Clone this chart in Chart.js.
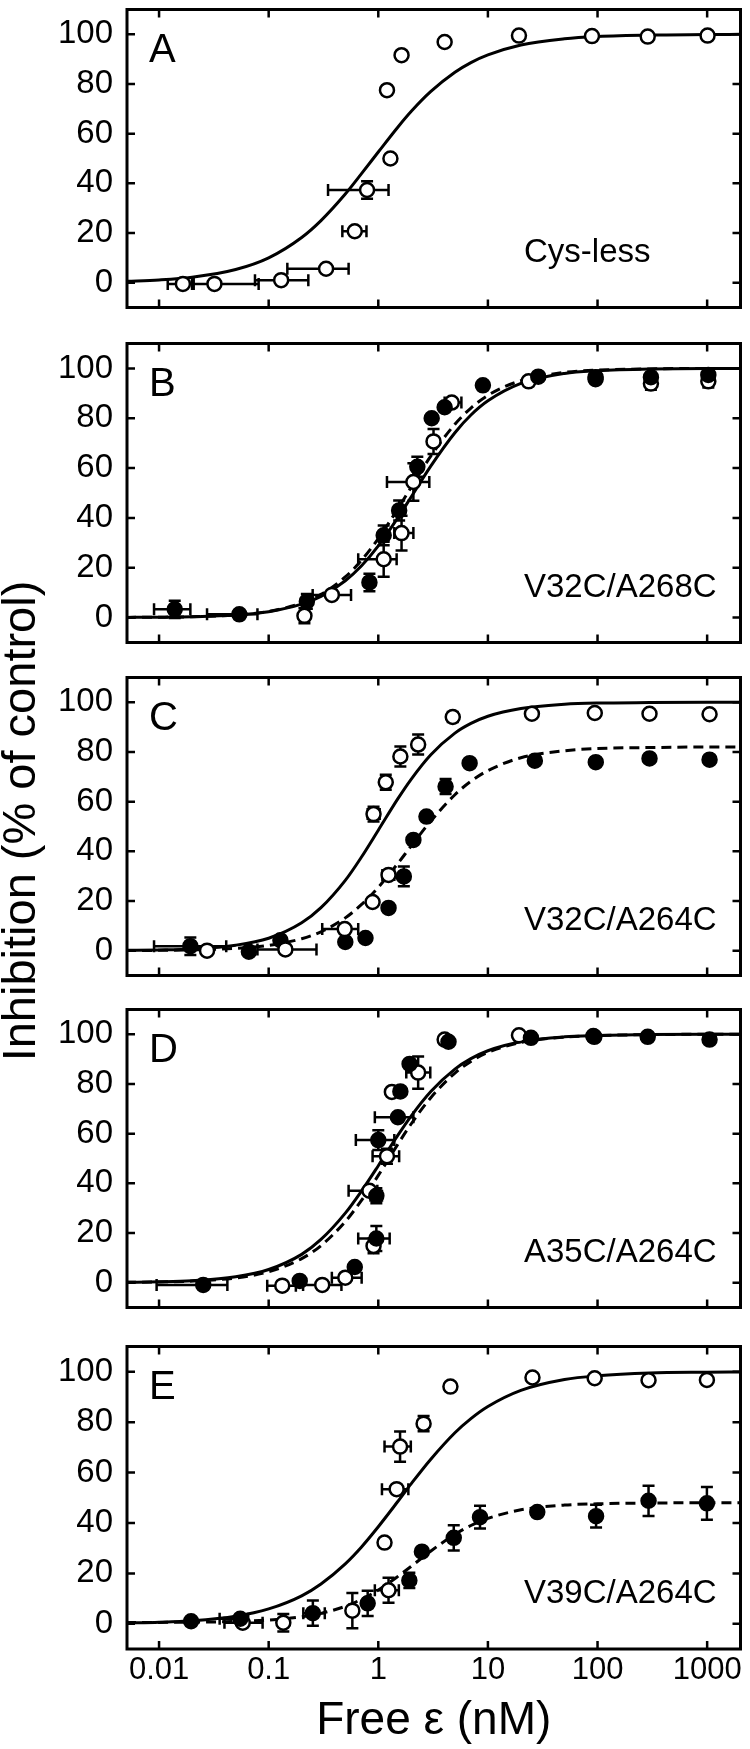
<!DOCTYPE html>
<html>
<head>
<meta charset="utf-8">
<title>Inhibition vs free epsilon</title>
<script src="https://cdn.jsdelivr.net/npm/chart.js@4.4.0/dist/chart.umd.min.js"></script>
<style>
  body { margin: 0; background: #fff; }
  #page { position: relative; width: 750px; height: 1749px; overflow: hidden; font-family: 'Liberation Sans', Arial, sans-serif; }
  #page canvas { position: absolute; left: 0; }
  #ytitle {
    position: absolute; left: -331px; top: 791px; width: 700px; height: 60px;
    line-height: 60px; text-align: center; font-size: 47px; color: #000;
    white-space: nowrap; transform: rotate(-90deg);
  }
</style>
</head>
<body>
<div id="page">
  <canvas id="panelA" width="750" height="317" style="top:0px"></canvas>
  <canvas id="panelB" width="750" height="318" style="top:334px"></canvas>
  <canvas id="panelC" width="750" height="317" style="top:668px"></canvas>
  <canvas id="panelD" width="750" height="317" style="top:1000px"></canvas>
  <canvas id="panelE" width="750" height="412" style="top:1337px"></canvas>
  <div id="ytitle">Inhibition (% of control)</div>
</div>
<script>
// axis ticks
const xTicks = [0.01, 0.1, 1, 10, 100, 1000];
const xTickLabels = ['0.01', '0.1', '1', '10', '100', '1000'];
const yTicks = [0, 20, 40, 60, 80, 100];

// x positions (nM) where the fitted curves were read
const fitX = [0.005, 0.01, 0.02, 0.05, 0.1, 0.2, 0.3, 0.5, 0.7, 1, 1.5, 2, 3, 5, 7, 10, 20, 50, 100, 300, 1000, 2000];

// A - Cys-less
const aOpenX = [0.0165, 0.032, 0.13, 0.334, 0.61, 0.79, 1.29, 1.20, 1.63, 4.03, 19.2, 89, 287, 1009];
const aOpenY = [-0.5, -0.5, 1.0, 5.6, 20.7, 37.3, 50, 77.5, 91.6, 96.9, 99.5, 99.3, 99.1, 99.5];
const aOpenXErr = [[0.012, 0.0207], [0.020, 0.081], [0.075, 0.23], [0.148, 0.536], [0.47, 0.78], [0.348, 1.24], null, null, null, null, null, null, null, null];
const aOpenYErr = [0, 0, 0, 0, 0, 3.5, 0, 0, 0, 0, 0, 0, 0, 0];
const aFit = [0.55, 1.1, 2.2, 5.3, 10, 18.2, 25, 35.7, 43.8, 52.6, 62.5, 69, 76.9, 84.7, 88.6, 91.7, 95.7, 98.2, 99.1, 99.7, 99.9, 100];

// B - V32C/A268C
const bFilledX = [0.0139, 0.054, 0.223, 0.83, 1.12, 1.55, 2.27, 3.07, 4.03, 9.0, 28.8, 96, 307, 1025];
const bFilledY = [3.3, 1.3, 6.5, 14.1, 33, 43, 60.5, 80, 84.4, 93.2, 96.7, 96.5, 96.5, 97.4];
const bFilledXErr = [[0.009, 0.0193], [0.0274, 0.079], null, null, null, null, null, null, null, null, null, null, null, null];
const bFilledYErr = [3.5, 0, 3, 3.5, 4, 4, 4, 0, 0, 0, 0, 0, 0, 0];
const bOpenX = [0.212, 0.377, 1.12, 1.63, 2.09, 3.19, 4.68, 23.5, 96, 307, 1025];
const bOpenY = [0.7, 9.1, 23.4, 33.9, 54.4, 70.7, 86.3, 94.8, 95.7, 93.9, 94.8];
const bOpenXErr = [null, [0.252, 0.564], [0.656, 1.47], [1.40, 2.09], [1.20, 2.92], null, [4.03, 5.73], null, null, null, null];
const bOpenYErr = [3, 0, 7, 7, 7.5, 5, 0, 0, 0, 2.5, 2.5];
const bFitSolid = [0.06, 0.15, 0.34, 1.04, 2.38, 5.4, 8.5, 14.8, 20.7, 28.8, 39.9, 48.5, 60.7, 74.2, 81.3, 87.0, 94.0, 98.0, 99.1, 99.8, 100, 100];
const bFitDash = [0.06, 0.15, 0.35, 1.08, 2.5, 5.8, 9.3, 16.3, 22.9, 31.7, 43.5, 52.4, 64.7, 77.6, 84.1, 89.2, 95.1, 98.4, 99.3, 99.8, 100, 100];

// C - V32C/A264C
const cOpenX = [0.0274, 0.142, 0.494, 0.887, 1.24, 0.905, 1.17, 1.59, 2.31, 4.78, 25.2, 94.4, 298, 1052];
const cOpenY = [0, 0.5, 8.7, 19.6, 30.5, 55, 67.8, 78.2, 83, 94.1, 95.4, 95.7, 95.4, 95.2];
const cOpenXErr = [null, [0.079, 0.273], [0.308, 0.656], null, [1.09, 1.40], [0.80, 1.03], null, null, null, null, null, null, null, null];
const cOpenYErr = [0, 0, 0, 0, 0, 3, 3, 4, 4, 2, 0, 0, 0, 0];
const cFilledX = [0.0193, 0.066, 0.128, 0.5, 0.764, 1.24, 1.71, 2.09, 2.75, 4.11, 6.81, 26.8, 96.4, 298, 1052];
const cFilledY = [1.8, -0.4, 4.2, 3.5, 5.1, 17.2, 29.9, 44.6, 54, 66.1, 75.5, 76.5, 75.9, 77.4, 76.9];
const cFilledXErr = [[0.009, 0.041], null, null, null, null, null, null, null, null, null, null, null, null, null, null];
const cFilledYErr = [3.5, 0, 0, 0, 0, 0, 4, 0, 0, 3, 0, 0, 0, 0, 0];
const cFitSolid = [0.12, 0.3, 0.7, 2.2, 5.0, 11.2, 17.3, 28.3, 37.6, 48.5, 61, 69.1, 78.8, 87.6, 91.5, 94.4, 97.5, 99.2, 99.7, 99.9, 100, 100];
const cFitDash = [0.05, 0.13, 0.3, 0.92, 2.1, 4.8, 7.6, 13.2, 18.5, 25.5, 35, 42.2, 52.1, 62.8, 68.2, 72.5, 77.7, 80.5, 81.4, 81.8, 82, 82];

// D - A35C/A264C
const dFilledX = [0.0253, 0.192, 0.61, 0.96, 0.96, 1.0, 1.51, 1.59, 1.93, 4.37, 24.7, 93.5, 287, 1052];
const dFilledY = [-0.9, 0.7, 6.3, 17.8, 35, 57.4, 66.6, 77, 88.1, 97, 98.6, 99, 99, 97.9];
const dFilledXErr = [[0.0095, 0.042], null, null, [0.656, 1.27], [0.85, 1.08], [0.624, 1.40], [0.93, 2.09], null, null, null, null, null, null, null];
const dFilledYErr = [0, 0, 0, 5, 3, 4, 0, 0, 0, 0, 0, 0, 0, 0];
const dOpenX = [0.133, 0.308, 0.5, 0.905, 0.83, 1.2, 1.33, 2.31, 4.03, 19.2, 91.6];
const dOpenY = [-1.2, -0.9, 2, 14.8, 37, 50.9, 76.8, 84.6, 97.9, 99.6, 99.3];
const dOpenXErr = [[0.097, 0.177], [0.206, 0.461], [0.377, 0.705], null, [0.536, 0.98], [0.887, 1.55], null, [1.80, 2.98], null, null, null];
const dOpenYErr = [0, 0, 0, 3, 0, 3, 0, 6.5, 0, 0, 0];
const dFitSolid = [0.15, 0.35, 0.81, 2.4, 5.3, 11.4, 17.4, 28, 36.8, 47.1, 59.2, 67.2, 76.9, 86, 90.2, 93.4, 97, 99, 99.5, 99.9, 100, 100];
const dFitDash = [0.12, 0.28, 0.64, 1.9, 4.4, 9.7, 14.9, 24.6, 33, 43.2, 55.6, 64, 74.4, 84.4, 89.1, 92.7, 96.7, 98.9, 99.5, 99.9, 100, 100];

// E - V39C/A264C
const eOpenX = [0.058, 0.136, 0.58, 1.24, 1.14, 1.47, 1.58, 2.59, 4.55, 25.5, 94.2, 292, 995];
const eOpenY = [0.4, 0.4, 5.2, 13.3, 32.2, 53.4, 70.3, 79.4, 94.1, 97.7, 97.4, 96.6, 96.7];
const eOpenXErr = [[0.0395, 0.088], null, null, [0.93, 1.54], null, [1.08, 1.88], [1.14, 1.98], null, null, null, null, null, null];
const eOpenYErr = [0, 3.5, 7, 5, 0, 0, 6, 3, 0, 0, 0, 0, 0];
const eFilledX = [0.0196, 0.055, 0.253, 0.80, 1.92, 2.5, 4.88, 8.47, 28.2, 97, 292, 995];
const eFilledY = [1.0, 2.0, 4.2, 8.1, 17.2, 28.6, 34.1, 42.3, 44.3, 42.7, 48.8, 47.8];
const eFilledXErr = [null, [0.0357, 0.065], [0.207, 0.325], null, null, null, null, null, null, null, null, null];
const eFilledYErr = [0, 0, 5, 5, 3, 0, 5, 4.5, 0, 4.5, 6, 6.5];
const eFitSolid = [0.3, 0.6, 1.2, 3.0, 5.9, 11.1, 15.8, 23.8, 30.4, 38.5, 48.4, 55.6, 65.2, 75.8, 81.4, 86.2, 92.6, 96.9, 98.4, 99.5, 99.8, 99.9];
const eFitDash = [0.52, 0.56, 0.63, 0.92, 1.48, 2.76, 4.13, 6.94, 9.67, 13.4, 18.7, 22.8, 28.8, 35.5, 39, 41.8, 45.2, 47.1, 47.6, 47.9, 48, 48];

Chart.defaults.font.family = "'Liberation Sans', Arial, sans-serif";
Chart.defaults.color = '#000';

function pts(xs, ys) {
    return xs.map(function (x, i) { return { x: x, y: ys[i] }; });
}

function markers(xs, ys, xErr, yErr, filled) {
    return {
        data: pts(xs, ys),
        xErr: xErr,
        yErr: yErr,
        pointRadius: 7,
        pointHoverRadius: 7,
        pointBorderWidth: 2.5,
        pointBorderColor: '#000',
        pointBackgroundColor: filled ? '#000' : '#fff',
        borderColor: '#000',
        backgroundColor: filled ? '#000' : '#fff'
    };
}

function fitLine(ys, dashed) {
    return {
        data: pts(fitX, ys),
        showLine: true,
        pointRadius: 0,
        borderWidth: 3,
        borderColor: '#000',
        borderDash: dashed ? [10, 6] : [],
        cubicInterpolationMode: 'monotone'
    };
}

// error bars, drawn under the markers
const errorBars = {
    id: 'errorBars',
    beforeDatasetsDraw: function (chart) {
        const ctx = chart.ctx, x = chart.scales.x, y = chart.scales.y;
        const cap = 6;
        ctx.save();
        ctx.strokeStyle = '#000';
        ctx.lineWidth = 2.5;
        chart.data.datasets.forEach(function (ds) {
            if (!ds.xErr) return;
            ds.data.forEach(function (p, i) {
                const px = x.getPixelForValue(p.x), py = y.getPixelForValue(p.y);
                const xe = ds.xErr[i], ye = ds.yErr[i];
                ctx.beginPath();
                if (xe) {
                    const l = x.getPixelForValue(xe[0]), r = x.getPixelForValue(xe[1]);
                    ctx.moveTo(l, py); ctx.lineTo(r, py);
                    ctx.moveTo(l, py - cap); ctx.lineTo(l, py + cap);
                    ctx.moveTo(r, py - cap); ctx.lineTo(r, py + cap);
                }
                if (ye) {
                    const t = y.getPixelForValue(p.y + ye), b = y.getPixelForValue(p.y - ye);
                    ctx.moveTo(px, t); ctx.lineTo(px, b);
                    ctx.moveTo(px - cap, t); ctx.lineTo(px + cap, t);
                    ctx.moveTo(px - cap, b); ctx.lineTo(px + cap, b);
                }
                ctx.stroke();
            });
        });
        ctx.restore();
    }
};

// box frame with inward ticks, panel letter and construct name
const panelFrame = {
    id: 'panelFrame',
    afterDraw: function (chart, args, opts) {
        const ctx = chart.ctx, a = chart.chartArea;
        const x = chart.scales.x, y = chart.scales.y;
        const tl = 8;
        ctx.save();
        ctx.strokeStyle = '#000';
        ctx.lineWidth = 2.5;
        ctx.beginPath();
        xTicks.forEach(function (v) {
            const px = x.getPixelForValue(v);
            ctx.moveTo(px, a.top); ctx.lineTo(px, a.top + tl);
            ctx.moveTo(px, a.bottom); ctx.lineTo(px, a.bottom - tl);
        });
        yTicks.forEach(function (v) {
            const py = y.getPixelForValue(v);
            ctx.moveTo(a.left, py); ctx.lineTo(a.left + tl, py);
            ctx.moveTo(a.right, py); ctx.lineTo(a.right - tl, py);
        });
        ctx.stroke();
        ctx.lineWidth = 3;
        ctx.strokeRect(a.left, a.top, a.right - a.left, a.bottom - a.top);

        ctx.fillStyle = '#000';
        ctx.textAlign = 'left';
        ctx.textBaseline = 'alphabetic';
        ctx.font = "40px 'Liberation Sans', Arial, sans-serif";
        ctx.fillText(opts.letter, a.left + 22, a.top + 52);
        ctx.font = "33px 'Liberation Sans', Arial, sans-serif";
        ctx.fillText(opts.label, a.left + 397, a.bottom - 46);
        ctx.restore();
    }
};

function noPadding(scale) {
    scale.paddingTop = 0;
    scale.paddingBottom = 0;
    scale.paddingLeft = 0;
    scale.paddingRight = 0;
}

function makePanel(id, letter, label, datasets, isBottom) {
    const xAxis = {
        type: 'logarithmic',
        min: 0.0051,
        max: 2015,
        display: isBottom,
        grid: { display: false, drawTicks: false },
        border: { display: false },
        afterBuildTicks: function (scale) {
            scale.ticks = xTicks.map(function (v) { return { value: v }; });
        },
        afterFit: function (scale) {
            noPadding(scale);
            if (isBottom) scale.height = 100;
        },
        ticks: {
            padding: 3,
            font: { size: 31 },
            callback: function (value) {
                const i = xTicks.indexOf(value);
                return i >= 0 ? xTickLabels[i] : '';
            }
        }
    };
    if (isBottom) {
        xAxis.title = {
            display: true,
            text: 'Free \u03b5 (nM)',
            font: { size: 46 },
            padding: { top: 0, bottom: 0 }
        };
    }

    return new Chart(document.getElementById(id), {
        type: 'scatter',
        data: { datasets: datasets },
        options: {
            responsive: false,
            animation: false,
            events: [],
            layout: { padding: { top: 5, right: 9, bottom: isBottom ? 0 : 5, left: 0 } },
            plugins: {
                legend: { display: false },
                tooltip: { enabled: false },
                panelFrame: { letter: letter, label: label }
            },
            scales: {
                x: xAxis,
                y: {
                    min: -10,
                    max: 110,
                    grid: { display: false, drawTicks: false },
                    border: { display: false },
                    afterBuildTicks: function (scale) {
                        scale.ticks = yTicks.map(function (v) { return { value: v }; });
                    },
                    afterFit: function (scale) {
                        noPadding(scale);
                        scale.width = 127;
                    },
                    ticks: { padding: 14, font: { size: 33 } }
                }
            }
        },
        plugins: [errorBars, panelFrame]
    });
}

document.addEventListener('DOMContentLoaded', function () {
    makePanel('panelA', 'A', 'Cys-less', [
        markers(aOpenX, aOpenY, aOpenXErr, aOpenYErr, false),
        fitLine(aFit, false)
    ], false);

    makePanel('panelB', 'B', 'V32C/A268C', [
        markers(bFilledX, bFilledY, bFilledXErr, bFilledYErr, true),
        markers(bOpenX, bOpenY, bOpenXErr, bOpenYErr, false),
        fitLine(bFitSolid, false),
        fitLine(bFitDash, true)
    ], false);

    makePanel('panelC', 'C', 'V32C/A264C', [
        markers(cOpenX, cOpenY, cOpenXErr, cOpenYErr, false),
        markers(cFilledX, cFilledY, cFilledXErr, cFilledYErr, true),
        fitLine(cFitSolid, false),
        fitLine(cFitDash, true)
    ], false);

    makePanel('panelD', 'D', 'A35C/A264C', [
        markers(dFilledX, dFilledY, dFilledXErr, dFilledYErr, true),
        markers(dOpenX, dOpenY, dOpenXErr, dOpenYErr, false),
        fitLine(dFitSolid, false),
        fitLine(dFitDash, true)
    ], false);

    makePanel('panelE', 'E', 'V39C/A264C', [
        markers(eFilledX, eFilledY, eFilledXErr, eFilledYErr, true),
        markers(eOpenX, eOpenY, eOpenXErr, eOpenYErr, false),
        fitLine(eFitSolid, false),
        fitLine(eFitDash, true)
    ], true);
});
</script>
</body>
</html>
